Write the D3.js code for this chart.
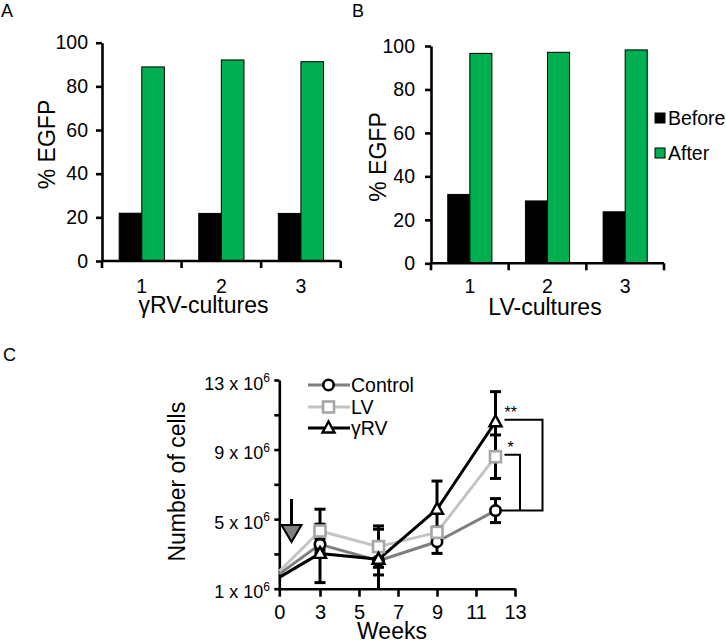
<!DOCTYPE html>
<html>
<head>
<meta charset="utf-8">
<script src="https://cdn.jsdelivr.net/npm/d3@7"></script>
<style>
  html, body { margin: 0; padding: 0; background: #fff; }
  svg { display: block; font-family: "Liberation Sans", Arial, Helvetica, sans-serif; }
</style>
</head>
<body>
<svg id="chart" width="726" height="643"></svg>
<script>
// ---------------- DATA ----------------
const cultures = ["1", "2", "3"];
const barSeries = ["Before", "After"];
const rvBefore = [21.9, 21.8, 21.8];
const rvAfter  = [88.9, 92.1, 91.3];
const lvBefore = [31.7, 28.7, 23.7];
const lvAfter  = [96.6, 97.1, 98.2];
const pctTicks = [0, 20, 40, 60, 80, 100];

const weeks = [0, 3, 6, 9, 12];
const weekTicks = [0, 3, 5, 7, 9, 11, 13];
const controlVals = [1.85, 3.55, 2.61, 3.70, 5.49];
const controlErr  = [0, 0.30, 0.82, 0.67, 0.69];
const lvVals      = [2.00, 4.32, 3.42, 4.24, 8.59];
const lvErr       = [0, 1.25, 1.19, 0.30, 1.25];
const grvVals     = [1.65, 3.03, 2.69, 5.57, 10.60];
const grvErr      = [0, 1.68, 1.73, 1.62, 1.73];
const cellTicks = [1, 3, 5, 7, 9, 11, 13];
const cellLabels = [1, 5, 9, 13];
const seriesNames = ["Control", "LV", "γRV"];

// ---------------- STYLE ----------------
const GREEN = "#00b050";
const svg = d3.select("#chart");
const AX_W = 2.6;

function styleAxis(g) {
  g.select(".domain").attr("stroke", "#000").attr("stroke-width", AX_W);
  g.selectAll(".tick line").attr("stroke", "#000").attr("stroke-width", AX_W);
  g.selectAll(".tick text").attr("fill", "#000");
}

// ---------------- BAR PANELS ----------------
function barPanel(opt) {
  const x = d3.scaleBand().domain(cultures).range(opt.xr).paddingInner(0).paddingOuter(0);
  const xs = d3.scaleBand().domain(barSeries).range([0, x.bandwidth()]).paddingInner(0).paddingOuter(0.76);
  const y = d3.scaleLinear().domain([0, 100]).range(opt.yr);
  const g = svg.append("g");

  const data = [];
  cultures.forEach((c, i) => {
    data.push({ c, s: "Before", v: opt.before[i] });
    data.push({ c, s: "After", v: opt.after[i] });
  });
  g.selectAll("rect.bar").data(data).join("rect")
    .attr("x", d => x(d.c) + xs(d.s))
    .attr("y", d => y(d.v))
    .attr("width", xs.bandwidth())
    .attr("height", d => y(0) - y(d.v))
    .attr("fill", d => d.s === "Before" ? "#000" : GREEN)
    .attr("stroke", "#000").attr("stroke-width", 1);

  const ya = g.append("g").attr("transform", `translate(${opt.xr[0]},0)`)
    .call(d3.axisLeft(y).tickValues(pctTicks).tickSize(6).tickSizeOuter(0).tickPadding(opt.pad));
  ya.selectAll(".tick text").attr("font-size", 19.5);
  styleAxis(ya);

  const edges = [x(cultures[0])].concat(cultures.map(c => x(c) + x.bandwidth()));
  g.append("line").attr("x1", opt.xr[0]).attr("x2", opt.xr[1])
    .attr("y1", y(0)).attr("y2", y(0)).attr("stroke", "#000").attr("stroke-width", AX_W);
  g.selectAll("line.xt").data(edges).join("line")
    .attr("x1", d => d).attr("x2", d => d)
    .attr("y1", y(0)).attr("y2", y(0) + 7)
    .attr("stroke", "#000").attr("stroke-width", AX_W);
  g.selectAll("text.xl").data(cultures).join("text")
    .attr("x", d => x(d) + x.bandwidth() / 2)
    .attr("y", 293).attr("text-anchor", "middle").attr("font-size", 19.5).text(d => d);

  g.append("text").attr("x", opt.xtitleX).attr("y", opt.xtitleY).attr("text-anchor", "middle")
    .attr("font-size", 23).text(opt.xtitle);
  g.append("text").attr("transform", `translate(${opt.ytitleX},${opt.ytitleY}) rotate(-90)`)
    .attr("text-anchor", "middle").attr("font-size", 23).text("% EGFP");
  g.append("text").attr("x", opt.lx).attr("y", 17).attr("font-size", 18).text(opt.label);
}

barPanel({ xr: [102, 340.7], yr: [261, 42.7], before: rvBefore, after: rvAfter, pad: 8,
  xtitle: "γRV-cultures", xtitleX: 203.5, xtitleY: 313, ytitleX: 55, ytitleY: 144.5, label: "A", lx: 1 });
barPanel({ xr: [431, 664], yr: [263.3, 46], before: lvBefore, after: lvAfter, pad: 10,
  xtitle: "LV-cultures", xtitleX: 545, xtitleY: 315, ytitleX: 386, ytitleY: 157, label: "B", lx: 352 });

const legB = svg.append("g");
barSeries.forEach((s, i) => {
  const cy = [118, 153][i];
  legB.append("rect").attr("x", 655).attr("y", cy - 5).attr("width", 10).attr("height", 10)
    .attr("fill", s === "Before" ? "#000" : GREEN).attr("stroke", "#000").attr("stroke-width", 1);
  legB.append("text").attr("x", 668).attr("y", cy + 7).attr("font-size", 19.5).text(s);
});

// ---------------- LINE PANEL C ----------------
const xC = d3.scaleLinear().domain([0, 3, 13]).range([279.3, 320, 515]);
const yC = d3.scaleLinear().domain([1, 13]).range([588.7, 380]);
const gC = svg.append("g");

const colors = { "Control": "#7f7f7f", "LV": "#c4c4c4", "γRV": "#000" };
const markerStroke = { "Control": "#000", "LV": "#a6a6a6", "γRV": "#000" };
const series = [
  { name: "Control", vals: controlVals, err: controlErr },
  { name: "LV", vals: lvVals, err: lvErr },
  { name: "γRV", vals: grvVals, err: grvErr }
];

const xaC = gC.append("g").attr("transform", `translate(0,${yC(1)})`)
  .call(d3.axisBottom(xC).tickValues(weekTicks).tickFormat(d3.format("d")).tickSize(8).tickSizeOuter(0).tickPadding(8));
xaC.selectAll(".tick text").attr("font-size", 20);
styleAxis(xaC);
const yaC = gC.append("g").attr("transform", `translate(${xC(0)},0)`)
  .call(d3.axisLeft(yC).tickValues(cellTicks).tickFormat("").tickSize(5).tickSizeOuter(0));
styleAxis(yaC);
cellLabels.forEach(v => {
  const t = gC.append("text").attr("x", 270).attr("y", yC(v) + 9.5).attr("text-anchor", "end").attr("font-size", 18);
  t.append("tspan").text(`${v} x 10`);
  t.append("tspan").attr("dy", -7.5).attr("font-size", 12).text("6");
});

const line = d3.line().x((d, i) => xC(weeks[i])).y(d => yC(d));
series.forEach(s => {
  gC.append("path").datum(s.vals).attr("d", line).attr("fill", "none")
    .attr("stroke", colors[s.name]).attr("stroke-width", 3).attr("stroke-linejoin", "round");
});

series.forEach(s => {
  s.vals.forEach((v, i) => {
    if (!s.err[i]) return;
    const cx = xC(weeks[i]);
    const top = v + s.err[i], bot = Math.max(1, v - s.err[i]);
    gC.append("line").attr("x1", cx).attr("x2", cx).attr("y1", yC(top)).attr("y2", yC(bot))
      .attr("stroke", "#000").attr("stroke-width", 3);
    gC.append("line").attr("x1", cx - 5.5).attr("x2", cx + 5.5).attr("y1", yC(top)).attr("y2", yC(top))
      .attr("stroke", "#000").attr("stroke-width", 3);
    if (v - s.err[i] > 1) {
      gC.append("line").attr("x1", cx - 5.5).attr("x2", cx + 5.5).attr("y1", yC(bot)).attr("y2", yC(bot))
        .attr("stroke", "#000").attr("stroke-width", 3);
    }
  });
});

function marker(g, name, x, y) {
  if (name === "Control") {
    g.append("circle").attr("cx", x).attr("cy", y).attr("r", 5.2)
      .attr("fill", "#fff").attr("stroke", markerStroke[name]).attr("stroke-width", 2.6);
  } else if (name === "LV") {
    g.append("rect").attr("x", x - 5.5).attr("y", y - 5.5).attr("width", 11).attr("height", 11)
      .attr("fill", "#fff").attr("stroke", markerStroke[name]).attr("stroke-width", 2.6);
  } else {
    g.append("path").attr("d", `M${x},${y - 6.5}L${x + 6},${y + 4.5}L${x - 6},${y + 4.5}Z`)
      .attr("fill", "#fff").attr("stroke", markerStroke[name]).attr("stroke-width", 2.4)
      .attr("stroke-linejoin", "miter");
  }
}
series.forEach(s => {
  s.vals.forEach((v, i) => { if (i > 0) marker(gC, s.name, xC(weeks[i]), yC(v)); });
});

const x12 = xC(12);
const yG = yC(grvVals[4]) - 2, yL = yC(lvVals[4]) - 2, yCt = yC(controlVals[4]);
gC.append("path").attr("d", `M${x12 + 9},${yG}H${x12 + 47}V${yCt}H${x12 + 4}`)
  .attr("fill", "none").attr("stroke", "#000").attr("stroke-width", 2);
gC.append("path").attr("d", `M${x12 + 9},${yL}H${x12 + 24.5}V${yCt}`)
  .attr("fill", "none").attr("stroke", "#000").attr("stroke-width", 2);
gC.append("text").attr("x", x12 + 9).attr("y", yG - 2).attr("font-size", 16).text("**");
gC.append("text").attr("x", x12 + 12).attr("y", yL - 2).attr("font-size", 16).text("*");

const ax = xC(0.9);
gC.append("line").attr("x1", ax).attr("x2", ax).attr("y1", 499).attr("y2", 527)
  .attr("stroke", "#000").attr("stroke-width", 3);
gC.append("path").attr("d", `M${ax - 10},525H${ax + 10}L${ax},542Z`)
  .attr("fill", "#7f7f7f").attr("stroke", "#000").attr("stroke-width", 2).attr("stroke-linejoin", "miter");

const legYs = [385, 407, 428];
series.forEach((s, i) => {
  const ly = legYs[i];
  gC.append("line").attr("x1", 308).attr("x2", 350).attr("y1", ly).attr("y2", ly)
    .attr("stroke", colors[s.name]).attr("stroke-width", 3);
  marker(gC, s.name, 328.5, ly);
  gC.append("text").attr("x", 351).attr("y", ly + 7).attr("font-size", 19.5).text(s.name);
});

gC.append("text").attr("x", 392).attr("y", 639).attr("text-anchor", "middle").attr("font-size", 23).text("Weeks");
gC.append("text").attr("transform", `translate(185,481.7) rotate(-90)`).attr("text-anchor", "middle")
  .attr("font-size", 23).text("Number of cells");
gC.append("text").attr("x", 3).attr("y", 361).attr("font-size", 18).text("C");
</script>
</body>
</html>
